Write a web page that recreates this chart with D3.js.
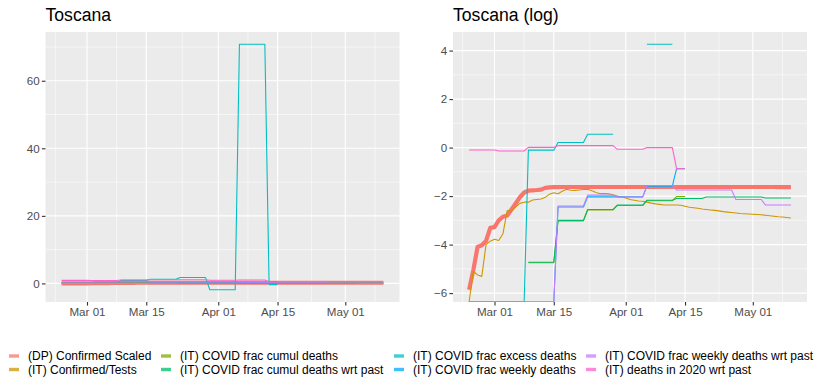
<!DOCTYPE html>
<html>
<head>
<meta charset="utf-8">
<script src="https://cdn.jsdelivr.net/npm/d3@7"></script>
<style>
  body { margin: 0; background: #fff; }
  svg { display: block; font-family: "Liberation Sans", Arial, Helvetica, sans-serif; }
  .axis text { fill: #4d4d4d; font-size: 11.6px; }
  .axis line { stroke: #333; stroke-width: 1.1; }
  .axis .domain { display: none; }
  .title { font-size: 17.6px; fill: #000; }
  .legend text { font-size: 12px; fill: #000; }
</style>
</head>
<body>
<svg id="chart" width="814" height="380"></svg>
<script>
// daily values, Feb 24 2020 .. May 10 2020 (77 days)
const firstDay = '2020-02-24';
const lastDay = '2020-05-10';

const seriesNames = [
	'(DP) Confirmed Scaled',
	'(IT) Confirmed/Tests',
	'(IT) COVID frac cumul deaths',
	'(IT) COVID frac cumul deaths wrt past',
	'(IT) COVID frac excess deaths',
	'(IT) COVID frac weekly deaths',
	'(IT) COVID frac weekly deaths wrt past',
	'(IT) deaths in 2020 wrt past'
];
const seriesColors = ['#F8766D', '#CD9600', '#7CAE00', '#00BE67', '#00BFC4', '#00A9FF', '#C77CFF', '#FF61CC'];

const confirmedScaled = [
	0.00285, 0.0064, 0.0166, 0.0178, 0.0213, 0.0365, 0.0376, 0.0498, 0.0578, 0.0608,
	0.078, 0.100, 0.129, 0.157, 0.169, 0.172, 0.174, 0.177, 0.190, 0.194,
	0.196, 0.196, 0.197, 0.197, 0.197, 0.197, 0.197, 0.197, 0.197, 0.197,
	0.197, 0.197, 0.197, 0.197, 0.197, 0.197, 0.197, 0.197, 0.197, 0.197,
	0.197, 0.197, 0.197, 0.197, 0.197, 0.197, 0.197, 0.197, 0.197, 0.197,
	0.197, 0.197, 0.197, 0.197, 0.197, 0.197, 0.197, 0.197, 0.197, 0.197,
	0.197, 0.197, 0.197, 0.197, 0.197, 0.197, 0.197, 0.197, 0.197, 0.197,
	0.197, 0.197, 0.197, 0.196, 0.196, 0.196, 0.196
];
const confirmedTests = [
	0, 0.0061, 0.00525, 0.00494, 0.0183, 0.0211, 0.0228, 0.0217, 0.0287, 0.0743,
	0.0728, 0.0863, 0.1003, 0.1054, 0.1054, 0.1153, 0.1177, 0.12, 0.1287, 0.1466,
	0.1557, 0.1496, 0.1653, 0.1791, 0.172, 0.1703, 0.1738, 0.1773, 0.1791, 0.1686,
	0.1572, 0.1496, 0.1496, 0.1481, 0.1423, 0.1353, 0.13, 0.125, 0.1177, 0.1142,
	0.1108, 0.1097, 0.1054, 0.1013, 0.0983, 0.0963, 0.0935, 0.0935, 0.0935, 0.0935,
	0.0926, 0.0889, 0.0854, 0.0837, 0.0821, 0.0797, 0.0781, 0.0765, 0.075, 0.0735,
	0.0714, 0.0699, 0.0686, 0.0672, 0.0659, 0.0652, 0.0646, 0.0639, 0.0633, 0.0627,
	0.0614, 0.0602, 0.059, 0.0578, 0.0573, 0.0561, 0.055
];
const fracCumulDeaths = [
	null, null, null, null, null, null, null, null, null, null,
	null, null, null, null, 0.00865, 0.00865, 0.00865, 0.00865, 0.00865, 0.00865,
	0.00865, 0.0488, 0.0488, 0.0488, 0.0488, 0.0488, 0.0488, 0.0488, 0.0765, 0.0765,
	0.0765, 0.0765, 0.0765, 0.0765, 0.0765, 0.0916, 0.0916, 0.0916, 0.0916, 0.0916,
	0.0916, 0.0916, 0.112, 0.112, 0.112, 0.112, 0.112, 0.112, 0.112, 0.1327,
	0.1327, 0.1327, null, null, null, null, null, null, null, null,
	null, null, null, null, null, null, null, null, null, null,
	null, null, null, null, null, null, null
];
const fracCumulDeathsWrtPast = [
	null, null, null, null, null, null, null, null, null, null,
	null, null, null, null, 0.00883, 0.00883, 0.00883, 0.00883, 0.00883, 0.00883,
	0.00883, 0.0498, 0.0498, 0.0498, 0.0498, 0.0498, 0.0498, 0.0498, 0.0781, 0.0781,
	0.0781, 0.0781, 0.0781, 0.0781, 0.0781, 0.0935, 0.0935, 0.0935, 0.0935, 0.0935,
	0.0935, 0.0935, 0.1142, 0.1142, 0.1142, 0.1142, 0.1142, 0.1142, 0.1142, 0.1225,
	0.1225, 0.1225, 0.1225, 0.1225, 0.1225, 0.1225, 0.13, 0.13, 0.13, 0.13,
	0.13, 0.13, 0.13, 0.13, 0.13, 0.13, 0.13, 0.13, 0.13, 0.13,
	0.125, 0.125, 0.125, 0.125, 0.125, 0.125, 0.125
];
const fracExcessDeaths = [
	0, 0, 0, 0, 0, 0, 0, 0, 0, 0,
	0, 0, 0, 0, 0.9, 0.9, 0.9, 0.9, 0.9, 0.9,
	0.9, 1.23, 1.23, 1.23, 1.23, 1.23, 1.23, 1.23, 1.73, 1.73,
	1.73, 1.73, 1.73, 1.73, 1.73, -1.87, -1.87, -1.87, -1.87, -1.87,
	-1.87, -1.87, 70.8, 70.8, 70.8, 70.8, 70.8, 70.8, 70.8, -0.35,
	-0.35, -0.35, null, null, null, null, null, null, null, null,
	null, null, null, null, null, null, null, null, null, null,
	null, null, null, null, null, null, null
];
const fracWeeklyDeaths = [
	0, 0, 0, 0, 0, 0, 0, 0, 0, 0,
	0, 0, 0, 0, 0, 0, 0, 0, 0, 0,
	0, 0.0863, 0.0863, 0.0863, 0.0863, 0.0863, 0.0863, 0.0863, 0.1313, 0.1313,
	0.1313, 0.1313, 0.1313, 0.1313, 0.1313, 0.1313, 0.1313, 0.1313, 0.1313, 0.1313,
	0.1313, 0.1313, 0.204, 0.204, 0.204, 0.204, 0.204, 0.204, 0.204, 0.419,
	0.419, 0.419, null, null, null, null, null, null, null, null,
	null, null, null, null, null, null, null, null, null, null,
	null, null, null, null, null, null, null
];
const fracWeeklyDeathsWrtPast = [
	0, 0, 0, 0, 0, 0, 0, 0, 0, 0,
	0, 0, 0, 0, 0, 0, 0, 0, 0, 0,
	0, 0.0898, 0.0898, 0.0898, 0.0898, 0.0898, 0.0898, 0.0898, 0.1409, 0.1409,
	0.1409, 0.1409, 0.1409, 0.1409, 0.1409, 0.13, 0.13, 0.13, 0.13, 0.13,
	0.13, 0.13, 0.21, 0.21, 0.21, 0.21, 0.21, 0.21, 0.21, 0.1738,
	0.1738, 0.1738, 0.1738, 0.1738, 0.1738, 0.1738, 0.1738, 0.1738, 0.1738, 0.1738,
	0.1738, 0.1738, 0.1738, 0.1177, 0.1177, 0.1177, 0.1177, 0.1177, 0.1177, 0.1177,
	0.0935, 0.0935, 0.0935, 0.0935, 0.0935, 0.0935, 0.0935
];
const deaths2020WrtPast = [
	0.905, 0.905, 0.905, 0.905, 0.905, 0.905, 0.905, 0.869, 0.869, 0.869,
	0.869, 0.869, 0.869, 0.869, 1.01, 1.01, 1.01, 1.01, 1.01, 1.01,
	1.01, 1.083, 1.083, 1.083, 1.083, 1.083, 1.083, 1.083, 1.083, 1.083,
	1.083, 1.083, 1.083, 1.083, 1.083, 0.932, 0.932, 0.932, 0.932, 0.932,
	0.932, 0.932, 1.0, 1.0, 1.0, 1.0, 1.0, 1.0, 1.0, 0.419,
	0.419, 0.419, null, null, null, null, null, null, null, null,
	null, null, null, null, null, null, null, null, null, null,
	null, null, null, null, null, null, null
];

// tick labels (the outer two only feed the minor grid)
const xBreaks = ['2020-02-15', '2020-03-01', '2020-03-15', '2020-04-01', '2020-04-15', '2020-05-01', '2020-05-15'];
const yTicksLinear = [0, 20, 40, 60];
const yTicksLog = [-6, -4, -2, 0, 2, 4];


// THE LAYOUT
const panelTop = 32;
const panelBottom = 302;
const tickLen = 3.6;
const panels = [
	{ title: 'Toscana', left: 45.5, right: 399.5, log: false, ticks: yTicksLinear },
	{ title: 'Toscana (log)', left: 453, right: 807, log: true, ticks: yTicksLog }
];
const legendCols = [28, 180, 413, 605];
const legendRows = [356, 369.5];

const parseDay = d3.timeParse('%Y-%m-%d');
const days = d3.timeDay.range(parseDay(firstDay), d3.timeDay.offset(parseDay(lastDay), 1));
const seriesValues = [confirmedScaled, confirmedTests, fracCumulDeaths, fracCumulDeathsWrtPast,
	fracExcessDeaths, fracWeeklyDeaths, fracWeeklyDeathsWrtPast, deaths2020WrtPast];
const series = seriesNames.map((name, i) => ({
	name,
	color: seriesColors[i],
	values: days.map((date, j) => ({ date, v: seriesValues[i][j] }))
}));

const svg = d3.select('#chart');

const expand = (lo, hi) => {
	const pad = (hi - lo) * 0.05;
	return [lo - pad, hi + pad];
};

const midpoints = arr => d3.pairs(arr).map(([a, b]) => (+a + +b) / 2);

function drawPanel(p, idx) {
	const tf = p.log ? Math.log : (v => v);
	const tv = v => v == null ? NaN : tf(v);

	const finite = series.flatMap(s => s.values.map(d => tv(d.v))).filter(v => isFinite(v));
	const y = d3.scaleLinear()
		.domain(expand(d3.min(finite), d3.max(finite)))
		.range([panelBottom, panelTop]);

	const xDom = expand(+days[0], +days[days.length - 1]);
	const x = d3.scaleTime()
		.domain(xDom.map(t => new Date(t)))
		.range([p.left, p.right]);

	const g = svg.append('g');

	// panel background + grid
	g.append('rect')
		.attr('x', p.left).attr('y', panelTop)
		.attr('width', p.right - p.left).attr('height', panelBottom - panelTop)
		.attr('fill', '#EBEBEB');

	const xb = xBreaks.map(parseDay);
	const xMajor = xb.filter(d => d >= xDom[0] && d <= xDom[1]);
	const xMinor = midpoints(xb).filter(t => t >= xDom[0] && t <= xDom[1]);
	const step = p.ticks[1] - p.ticks[0];
	const yExt = [p.ticks[0] - step, ...p.ticks, p.ticks[p.ticks.length - 1] + step];
	const yDom = y.domain();
	const yMinor = midpoints(yExt).filter(v => v >= yDom[0] && v <= yDom[1]);

	const grid = g.append('g').attr('stroke', '#fff').attr('fill', 'none');
	grid.selectAll('.ymin').data(yMinor).enter().append('line')
		.attr('x1', p.left).attr('x2', p.right)
		.attr('y1', d => y(d)).attr('y2', d => y(d))
		.attr('stroke-width', 0.55);
	grid.selectAll('.xmin').data(xMinor).enter().append('line')
		.attr('y1', panelTop).attr('y2', panelBottom)
		.attr('x1', d => x(d)).attr('x2', d => x(d))
		.attr('stroke-width', 0.55);
	grid.selectAll('.ymaj').data(p.ticks).enter().append('line')
		.attr('x1', p.left).attr('x2', p.right)
		.attr('y1', d => y(d)).attr('y2', d => y(d))
		.attr('stroke-width', 1.1);
	grid.selectAll('.xmaj').data(xMajor).enter().append('line')
		.attr('y1', panelTop).attr('y2', panelBottom)
		.attr('x1', d => x(d)).attr('x2', d => x(d))
		.attr('stroke-width', 1.1);

	// lines, clipped to the panel; log(0) sits on the bottom edge
	const clipId = `clip${idx}`;
	svg.append('clipPath').attr('id', clipId)
		.append('rect')
		.attr('x', p.left).attr('y', panelTop)
		.attr('width', p.right - p.left).attr('height', panelBottom - panelTop);

	const line = d3.line()
		.defined(d => !isNaN(tv(d.v)))
		.x(d => x(d.date))
		.y(d => tv(d.v) === -Infinity ? panelBottom : y(tv(d.v)));

	g.append('g')
		.attr('clip-path', `url(#${clipId})`)
		.selectAll('path')
		.data(series)
		.enter().append('path')
			.attr('d', d => line(d.values))
			.attr('fill', 'none')
			.attr('stroke', d => d.color)
			.attr('stroke-width', (d, i) => i === 0 ? 4.2 : 1.1)
			.attr('stroke-linejoin', 'round');

	// axes
	g.append('g')
		.attr('class', 'axis')
		.attr('transform', `translate(${p.left},0)`)
		.call(d3.axisLeft(y).tickValues(p.ticks).tickSize(tickLen).tickPadding(2.2));

	g.append('g')
		.attr('class', 'axis')
		.attr('transform', `translate(0,${panelBottom})`)
		.call(d3.axisBottom(x).tickValues(xMajor).tickSize(tickLen).tickPadding(2.6)
			.tickFormat(d3.timeFormat('%b %d')));

	g.append('text')
		.attr('class', 'title')
		.attr('x', p.left)
		.attr('y', 21)
		.text(p.title);
}

panels.forEach(drawPanel);

// legend, 2 rows filled column by column
const legend = svg.append('g').attr('class', 'legend');
const item = legend.selectAll('g')
	.data(series)
	.enter().append('g')
		.attr('transform', (d, i) => `translate(${legendCols[Math.floor(i / 2)]},${legendRows[i % 2]})`);
item.append('line')
	.attr('x1', -19).attr('x2', -9)
	.attr('stroke', d => d.color)
	.attr('stroke-width', 3.4)
	.attr('stroke-opacity', 0.75);
item.append('text')
	.attr('dy', '0.36em')
	.text(d => d.name);
</script>
</body>
</html>
